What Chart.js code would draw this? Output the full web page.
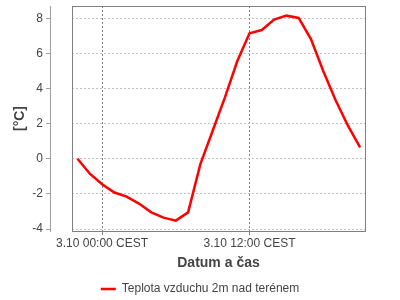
<!DOCTYPE html>
<html>
<head>
<meta charset="utf-8">
<script src="https://cdn.jsdelivr.net/npm/chart.js@4/dist/chart.umd.min.js"></script>
<style>
  html, body { margin: 0; padding: 0; background: #fff; }
  #wrap { width: 400px; height: 300px; }
</style>
</head>
<body>
<div id="wrap"><canvas id="chart" width="400" height="300"></canvas></div>
<script>
// Data (hours relative to 3.10 00:00 CEST)
const hours = [-2, -1, 0, 1, 2, 3, 4, 5, 6, 7, 8, 9, 10, 11, 12, 13, 14, 15, 16, 17, 18, 19, 20, 21];
const temps = [0.0, -0.85, -1.45, -1.92, -2.15, -2.55, -3.05, -3.35, -3.52, -3.05, -0.3, 1.6,
               3.5, 5.55, 7.15, 7.33, 7.93, 8.15, 8.02, 6.82, 5.0, 3.35, 1.9, 0.65];
const xTickValues = [0, 12];
const xTickLabels = ['3.10 00:00 CEST', '3.10 12:00 CEST'];
const yTickValues = [-4, -2, 0, 2, 4, 6, 8];
const seriesName = 'Teplota vzduchu 2m nad terénem';

const textColor = '#444';
const font = { family: '"Liberation Sans", Arial, sans-serif', size: 12 };
const boldFont = { family: '"Liberation Sans", Arial, sans-serif', size: 14, weight: 'bold' };

// frame around plot area
const framePlugin = {
    id: 'frame',
    afterDraw(chart) {
        const { ctx, chartArea: a } = chart;
        ctx.save();
        ctx.strokeStyle = '#808080';
        ctx.lineWidth = 1;
        ctx.strokeRect(Math.round(a.left) + 0.5, Math.round(a.top) + 0.5,
            Math.round(a.right - a.left), Math.round(a.bottom - a.top));
        ctx.restore();
    }
};

const setYTicks = scale => { scale.ticks = yTickValues.map(v => ({ value: v })); };
const noPad = scale => {
    scale.paddingTop = 0; scale.paddingBottom = 0;
    scale.paddingLeft = 0; scale.paddingRight = 0;
};

new Chart(document.getElementById('chart').getContext('2d'), {
    type: 'line',
    data: {
        datasets: [{
            label: seriesName,
            data: hours.map((h, i) => ({ x: h, y: temps[i] })),
            borderColor: '#ff0000',
            backgroundColor: '#ff0000',
            borderWidth: 2.5,
            pointRadius: 0,
            tension: 0,
            fill: false,
        }],
    },
    options: {
        responsive: false,
        animation: false,
        layout: { padding: { left: 0, right: 0, top: 6, bottom: -5 } },
        plugins: {
            legend: {
                position: 'bottom',
                labels: {
                    color: textColor,
                    font: font,
                    boxWidth: 15,
                    boxHeight: 0,
                    padding: 4,
                },
            },
            tooltip: { enabled: false },
        },
        scales: {
            x: {
                type: 'linear',
                min: -2.45,
                max: 21.4,
                afterBuildTicks: scale => { scale.ticks = xTickValues.map(v => ({ value: v })); },
                afterFit: scale => { noPad(scale); scale.height = 48; },
                ticks: {
                    color: textColor,
                    font: font,
                    padding: 1,
                    maxRotation: 0,
                    callback: (v) => xTickLabels[xTickValues.indexOf(v)],
                },
                grid: {
                    color: '#808080',
                    tickLength: 4,
                    tickBorderDash: [],
                },
                border: { display: false, dash: [2, 2] },
                title: {
                    display: true,
                    text: 'Datum a čas',
                    color: textColor,
                    font: boldFont,
                    padding: { top: 0, bottom: 7 },
                },
            },
            y: {
                position: 'left',
                weight: 0,
                min: -4.11,
                max: 8.7,
                afterBuildTicks: setYTicks,
                afterFit: scale => { noPad(scale); scale.width = 22; },
                ticks: { display: false },
                grid: {
                    color: '#c0c0c0',
                    drawTicks: false,
                },
                border: { display: false, dash: [2, 2] },
            },
            yAxis: {
                position: 'left',
                weight: 1,
                min: -4.11,
                max: 8.7,
                afterBuildTicks: setYTicks,
                afterFit: scale => { noPad(scale); scale.width = 50; },
                ticks: {
                    color: textColor,
                    font: font,
                    padding: 3,
                },
                grid: {
                    drawOnChartArea: false,
                    color: '#a0a0a0',
                    tickLength: 4,
                },
                border: { display: true, color: '#a0a0a0' },
                title: {
                    display: true,
                    text: '[°C]',
                    color: textColor,
                    font: boldFont,
                    padding: { top: 12, bottom: 0 },
                },
            },
            // empty space on the right of the plot
            rightSpace: {
                position: 'right',
                min: 0,
                max: 1,
                afterFit: scale => { noPad(scale); scale.width = 35; },
                ticks: { display: false },
                grid: { display: false },
                border: { display: false },
            },
        },
    },
    plugins: [framePlugin],
});
</script>
</body>
</html>
